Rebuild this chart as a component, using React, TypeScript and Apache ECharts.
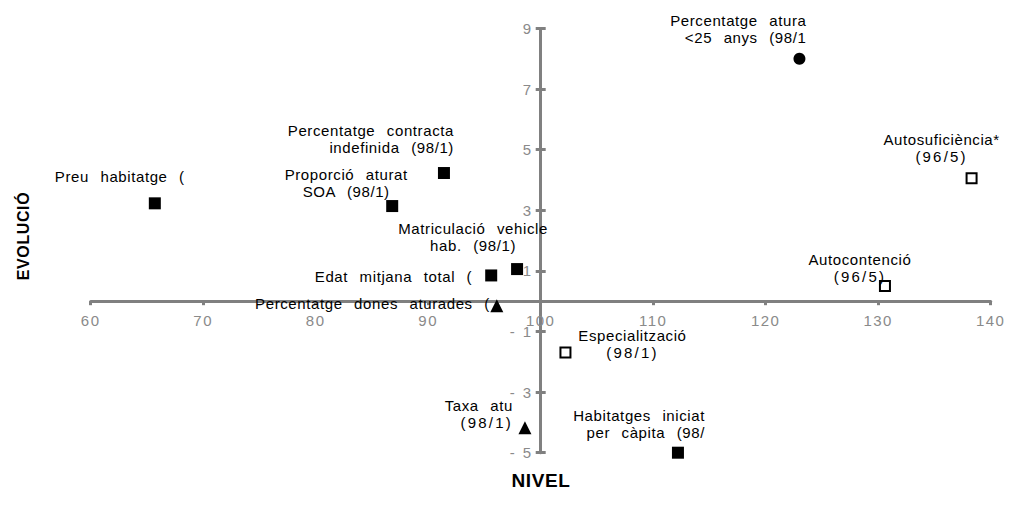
import { useEffect, useRef } from 'react';
import * as echarts from 'echarts';

// ---- data ----
const names = [
  'Preu habitatge',
  'Percentatge contractació indefinida',
  'Proporció aturat SOA',
  'Matriculació vehicles hab.',
  'Edat mitjana total',
  'Habitatges iniciats per càpita',
  'Especialització',
  'Autocontenció',
  'Autosuficiència*',
  'Percentatge atur <25 anys',
  'Percentatge dones aturades',
  'Taxa atur',
];
const labelTexts = [
  'Preu  habitatge  (',
  'Percentatge  contracta\nindefinida  (98/1)',
  'Proporció  aturat\nSOA  (98/1)',
  'Matriculació  vehicle\nhab.  (98/1)',
  'Edat  mitjana  total  (',
  'Habitatges  iniciat\nper  càpita  (98/',
  'Especialització\n(98/1)',
  'Autocontenció\n(96/5)',
  'Autosuficiència*\n(96/5)',
  'Percentatge  atura\n<25  anys  (98/1',
  'Percentatge  dones  aturades  (',
  'Taxa  atu\n(98/1)',
];
const nivel = [65.7, 91.4, 86.8, 97.9, 95.6, 112.2, 102.2, 130.6, 138.3, 123.0, 96.1, 98.6];
const evolucio = [3.23, 4.23, 3.14, 1.06, 0.85, -5.0, -1.69, 0.5, 4.06, 8.0, -0.15, -4.18];
const markerKinds = ['filled', 'filled', 'filled', 'filled', 'filled', 'filled', 'open', 'open', 'open', 'circle', 'triangle', 'triangle'];
const xRange = [60, 140];
const xStep = 10;
const yRange = [-5, 9];
const yStep = 2;
const xTitle = 'NIVEL';
const yTitle = 'EVOLUCIÓ';

// ---- label layout (style only) ----
const labelLayout: { offset: [number, number]; align: string }[] = [
  { offset: [-100, -27], align: 'left' },
  { offset: [10, -34], align: 'right' },
  { offset: [-46, -23], align: 'center' },
  { offset: [-44, -32], align: 'center' },
  { offset: [-19, 1], align: 'right' },
  { offset: [27, -29], align: 'right' },
  { offset: [67, -8], align: 'center' },
  { offset: [-25, -18], align: 'center' },
  { offset: [-30, -30], align: 'center' },
  { offset: [7, -30], align: 'right' },
  { offset: [-7, -2], align: 'right' },
  { offset: [-12, -14], align: 'right' },
];

const FONT = 'Liberation Sans, Arial, sans-serif';
const GRAY = '#808080';
const TICK_GRAY = '#8a8a8a';

const markerStyles: Record<string, any> = {
  filled: { symbol: 'rect', symbolSize: 12, itemStyle: { color: '#000', opacity: 1 } },
  open: { symbol: 'rect', symbolSize: 10, itemStyle: { color: '#fff', borderColor: '#000', borderWidth: 2, opacity: 1 } },
  circle: { symbol: 'circle', symbolSize: 12, itemStyle: { color: '#000', opacity: 1 } },
  triangle: { symbol: 'triangle', symbolSize: 13, itemStyle: { color: '#000', opacity: 1 } },
};

const css = `
.chartbox text { letter-spacing: 0.6px; word-spacing: 1px; }
.chartbox text[fill="${TICK_GRAY}"] { letter-spacing: 1.5px; }
`;

function spaceOut(root: HTMLElement) {
  root.querySelectorAll('text').forEach((t) => {
    const s = (t.textContent || '').trim();
    if (/^\(9[68]\/[15]\)$/.test(s)) {
      (t as SVGTextElement).style.letterSpacing = '2.2px';
    }
  });
}

export default function App() {
  const ref = useRef<HTMLDivElement>(null);
  useEffect(() => {
    if (!ref.current) return;
    const el = ref.current;
    const chart = echarts.init(el, undefined, { renderer: 'svg' });
    const kinds = ['filled', 'open', 'circle', 'triangle'];
    const series = kinds.map((k) => ({
      type: 'scatter',
      name: k,
      ...markerStyles[k],
      z: 5,
      data: names
        .map((n, i) => ({ n, i }))
        .filter(({ i }) => markerKinds[i] === k)
        .map(({ n, i }) => ({
          name: n,
          value: [nivel[i], evolucio[i]],
          label: {
            show: true,
            position: 'inside',
            formatter: labelTexts[i],
            offset: labelLayout[i].offset,
            align: labelLayout[i].align,
            verticalAlign: 'middle',
            fontSize: 15,
            lineHeight: 17,
            fontFamily: FONT,
            color: '#000',
          },
        })),
    }));
    chart.setOption({
      animation: false,
      grid: { left: 90.7, right: 20.3, top: 28.5, bottom: 61.3 },
      xAxis: {
        type: 'value',
        min: xRange[0],
        max: xRange[1],
        interval: xStep,
        position: 'bottom',
        offset: -151.5,
        splitLine: { show: false },
        axisLine: { onZero: false, lineStyle: { color: GRAY, width: 3 } },
        axisTick: { show: true, length: 4, lineStyle: { color: GRAY, width: 3 } },
        axisLabel: { color: TICK_GRAY, fontSize: 15, fontFamily: FONT, margin: 12 },
      },
      yAxis: [
        {
          type: 'value',
          min: yRange[0],
          max: yRange[1],
          interval: yStep,
          position: 'left',
          offset: -450,
          splitLine: { show: false },
          axisLine: { show: true, onZero: false, lineStyle: { color: GRAY, width: 3 } },
          axisTick: { show: true, length: 5, lineStyle: { color: GRAY, width: 3 } },
          axisLabel: {
            color: TICK_GRAY,
            fontSize: 15,
            fontFamily: FONT,
            margin: 8,
            formatter: (v: number) => (v < 0 ? '- ' + Math.abs(v) : String(v)),
          },
        },
        {
          type: 'value',
          min: yRange[0],
          max: yRange[1],
          interval: yStep,
          position: 'left',
          offset: -450,
          splitLine: { show: false },
          axisLine: { show: false, onZero: false },
          axisTick: { show: true, inside: true, length: 5, lineStyle: { color: GRAY, width: 3 } },
          axisLabel: { show: false },
        },
      ],
      graphic: [
        {
          type: 'text',
          x: 23,
          y: 236,
          rotation: Math.PI / 2,
          style: { text: yTitle, font: 'bold 16px ' + FONT, fill: '#000', align: 'center', verticalAlign: 'middle' },
        },
        {
          type: 'text',
          x: 541,
          y: 480,
          style: { text: xTitle, font: 'bold 19px ' + FONT, fill: '#000', align: 'center', verticalAlign: 'middle' },
        },
      ],
      series,
    });
    spaceOut(el);
    const onFinished = () => spaceOut(el);
    chart.on('finished', onFinished);
    return () => {
      chart.off('finished', onFinished);
      chart.dispose();
    };
  }, []);
  return (
    <>
      <style>{css}</style>
      <div
        ref={ref}
        className="chartbox"
        style={{ position: 'fixed', left: 0, top: 0, width: 1011, height: 514, background: '#fff' }}
      />
    </>
  );
}
